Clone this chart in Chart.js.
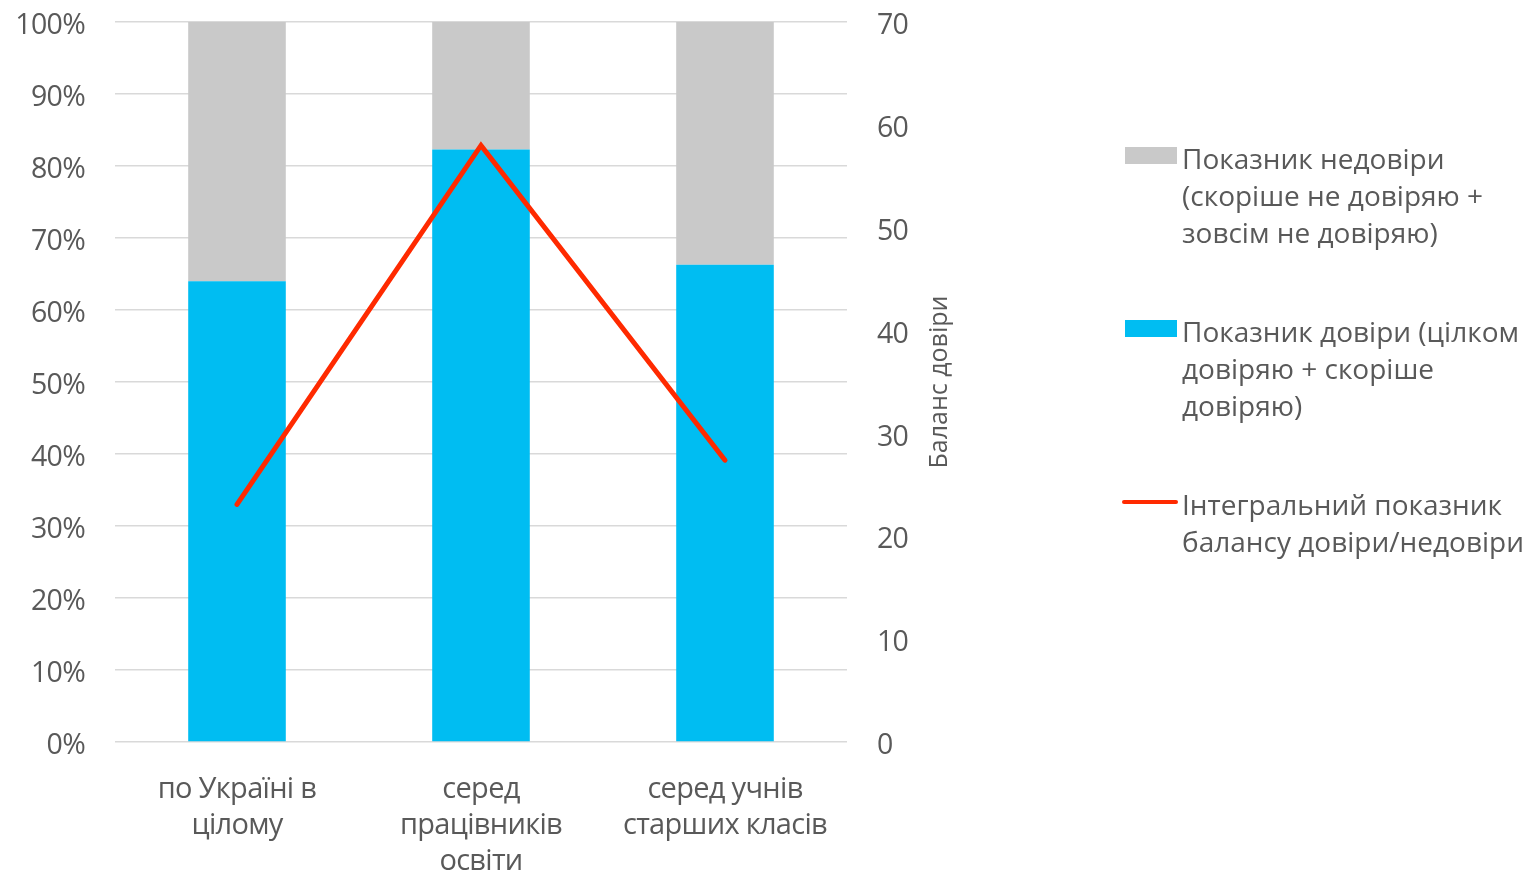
<!DOCTYPE html>
<html>
<head>
<meta charset="utf-8">
<script src="https://cdn.jsdelivr.net/npm/chart.js@4/dist/chart.umd.min.js"></script>
<style>
  html, body { margin: 0; padding: 0; background: #fff; }
  #wrap { position: relative; width: 1529px; height: 870px; overflow: hidden; }
  #chart { position: absolute; left: 0; top: 0; }
  #legend { position: absolute; left: 0; top: 0; width: 1529px; height: 870px; pointer-events: none;
            font-family: "Open Sans", sans-serif; font-size: 28px; color: #595959; }
  .item { position: absolute; left: 1182px; line-height: 37px; white-space: nowrap; }
  .swatch { position: absolute; }
</style>
</head>
<body>
<div id="wrap">
  <canvas id="chart" width="1529" height="870"></canvas>
  <div id="legend"></div>
</div>
<script>
// Categories (multi-line axis labels)
const categories = [
  ['по Україні в', 'цілому'],
  ['серед', 'працівників', 'освіти'],
  ['серед учнів', 'старших класів']
];

// Share of respondents, %
const trustValues = [64, 82.3, 66.3];
const distrustValues = [36, 17.7, 33.7];

// Integral trust/distrust balance (right axis)
const balanceValues = [23.1, 58, 27.4];

// Axis ranges
const percentTicks = { min: 0, max: 100, step: 10 };
const balanceTicks = { min: 0, max: 70, step: 10 };

// Series names, wrapped as in the legend
const distrustLabel = ['Показник недовіри', '(скоріше не довіряю +', 'зовсім не довіряю)'];
const trustLabel = ['Показник довіри (цілком', 'довіряю + скоріше', 'довіряю)'];
const balanceLabel = ['Інтегральний показник', 'балансу довіри/недовіри'];
const balanceAxisTitle = 'Баланс довіри';

const GREY = '#c9c9c9';
const BLUE = '#00bdf2';
const RED = '#ff2a00';
const TEXT = '#595959';
const FONT = '"Open Sans", sans-serif';

// Plot box edges on the canvas
const PLOT = { left: 115, right: 847, top: 22, bottom: 742 };
const W = 1529, H = 870;

// Slightly tightened tracking for the axis text; title drawn bottom-to-top on the right
const axisText = {
  id: 'axisText',
  beforeDraw(c) { c.ctx.letterSpacing = '-0.7px'; },
  afterDraw(c) {
    const { ctx, chartArea } = c;
    ctx.save();
    ctx.letterSpacing = '0px';
    ctx.translate(940, (chartArea.top + chartArea.bottom) / 2);
    ctx.rotate(-Math.PI / 2);
    ctx.fillStyle = TEXT;
    ctx.font = '25px ' + FONT;
    ctx.textAlign = 'center';
    ctx.textBaseline = 'middle';
    ctx.fillText(balanceAxisTitle, 0, 0);
    ctx.restore();
  }
};

const chart = new Chart(document.getElementById('chart'), {
  type: 'bar',
  data: {
    labels: categories,
    datasets: [
      {
        type: 'line',
        label: balanceLabel.join(' '),
        data: balanceValues,
        yAxisID: 'y1',
        borderColor: RED,
        borderWidth: 5,
        borderCapStyle: 'round',
        borderJoinStyle: 'miter',
        pointRadius: 0,
        tension: 0,
        order: 0
      },
      {
        label: trustLabel.join(' '),
        data: trustValues,
        backgroundColor: BLUE,
        stack: 's',
        order: 1
      },
      {
        label: distrustLabel.join(' '),
        data: distrustValues,
        backgroundColor: GREY,
        stack: 's',
        order: 1
      }
    ]
  },
  options: {
    responsive: false,
    animation: false,
    layout: { padding: { left: 0, right: 0, top: PLOT.top, bottom: 0 } },
    datasets: { bar: { barPercentage: 1, categoryPercentage: 0.4 } },
    plugins: { legend: { display: false }, tooltip: { enabled: false } },
    scales: {
      x: {
        stacked: true,
        grid: { display: false, drawTicks: false },
        border: { display: false },
        ticks: {
          color: TEXT,
          font: { family: FONT, size: 29, lineHeight: 1.24 },
          maxRotation: 0, autoSkip: false, padding: 30
        },
        afterFit(s) { s.height = H - PLOT.bottom; s.paddingLeft = 0; s.paddingRight = 0; }
      },
      y: {
        stacked: true,
        position: 'left',
        min: percentTicks.min, max: percentTicks.max,
        grid: { color: '#d9d9d9', lineWidth: 1.5, drawTicks: false },
        border: { display: false },
        ticks: {
          stepSize: percentTicks.step,
          padding: 30,
          labelOffset: 4,
          color: TEXT,
          font: { family: FONT, size: 28.5 },
          callback: v => v + '%'
        },
        afterFit(s) { s.width = PLOT.left; s.paddingTop = 0; s.paddingBottom = 0; }
      },
      y1: {
        position: 'right',
        min: balanceTicks.min, max: balanceTicks.max,
        grid: { display: false, drawTicks: false },
        border: { display: false },
        ticks: { stepSize: balanceTicks.step, padding: 30, labelOffset: 4, color: TEXT, font: { family: FONT, size: 28.5 } },
        afterFit(s) { s.width = W - PLOT.right; s.paddingTop = 0; s.paddingBottom = 0; }
      }
    }
  },
  plugins: [axisText]
});

// Legend drawn as HTML text next to the plot
const legend = document.getElementById('legend');
const legendItems = [
  { lines: distrustLabel, color: GREY, kind: 'box', top: 139.5 },
  { lines: trustLabel, color: BLUE, kind: 'box', top: 312.5 },
  { lines: balanceLabel, color: RED, kind: 'line', top: 486 }
];
legendItems.forEach(it => {
  const t = document.createElement('div');
  t.className = 'item';
  t.style.top = it.top + 'px';
  t.innerHTML = it.lines.join('<br>');
  legend.appendChild(t);
  const s = document.createElement('div');
  s.className = 'swatch';
  s.style.background = it.color;
  if (it.kind === 'box') {
    s.style.left = '1125px'; s.style.width = '52px';
    s.style.top = (it.top + 7) + 'px'; s.style.height = '17px';
  } else {
    s.style.left = '1122px'; s.style.width = '56px';
    s.style.top = (it.top + 14) + 'px'; s.style.height = '4px';
    s.style.borderRadius = '2px';
  }
  legend.appendChild(s);
});
</script>
</body>
</html>
